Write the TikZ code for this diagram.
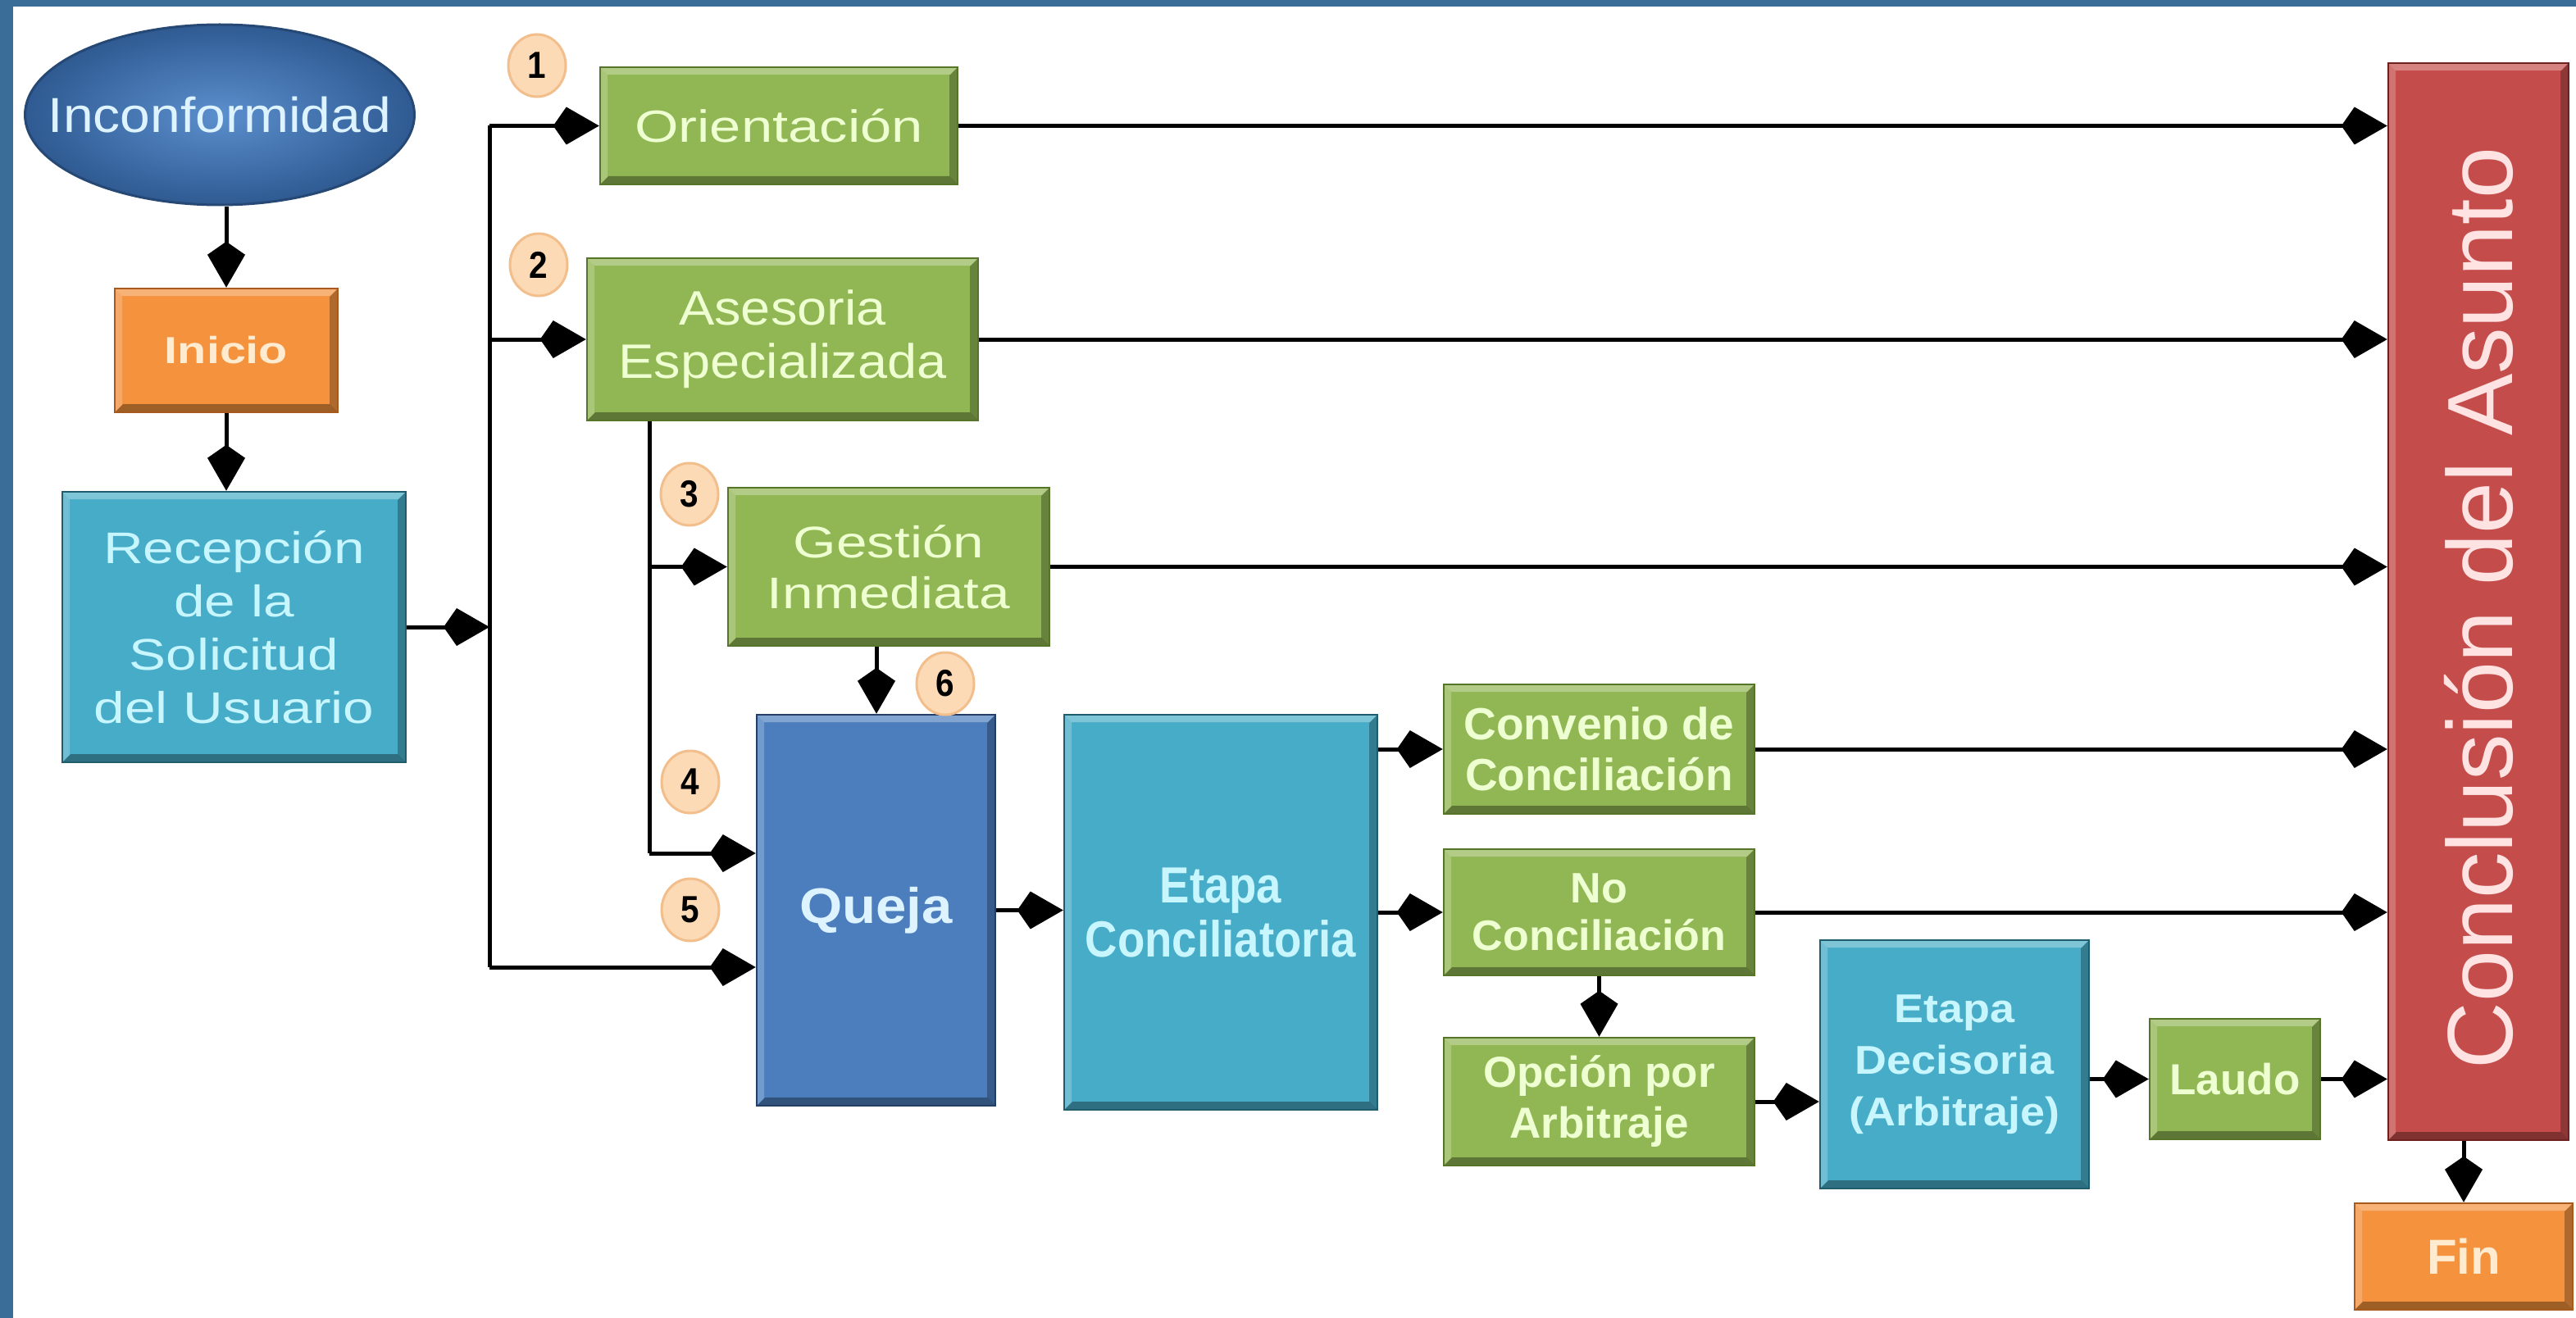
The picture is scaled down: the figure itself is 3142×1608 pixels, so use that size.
\documentclass[tikz,border=0pt]{standalone}
\usepackage{fontspec}
\setmainfont{Liberation Sans}
\newfontfamily\fw{Liberation Sans}[FakeStretch=1.25]
\newfontfamily\fm{Liberation Sans}[FakeStretch=1.1]
\newfontfamily\fn{Liberation Sans}[FakeStretch=0.88]
\usetikzlibrary{arrows.meta,shapes.geometric}
\newcommand\fsz[2]{\fontsize{#1}{#2}\selectfont}
\definecolor{framec}{HTML}{3A6E98}
\definecolor{greenf}{HTML}{91B654}
\definecolor{greend}{HTML}{56752A}
\definecolor{greent}{HTML}{EEFFD2}
\definecolor{tealf}{HTML}{47ACC7}
\definecolor{teald}{HTML}{1F5C6E}
\definecolor{tealt}{HTML}{C8F6FF}
\definecolor{quejaf}{HTML}{4C7EBE}
\definecolor{quejad}{HTML}{233F66}
\definecolor{quejat}{HTML}{DDF3FF}
\definecolor{orangef}{HTML}{F4923D}
\definecolor{oranged}{HTML}{A85A1E}
\definecolor{oranget}{HTML}{FFEBD0}
\definecolor{redf}{HTML}{C44D4B}
\definecolor{redd}{HTML}{6E2220}
\definecolor{redt}{HTML}{FFE2E2}
\definecolor{ellin}{HTML}{5B8FCD}
\definecolor{ellout}{HTML}{2F5A92}
\definecolor{numf}{HTML}{FCDAB6}
\definecolor{numd}{HTML}{F2BE8C}
\tikzset{
  bevel/.style={path picture={
    \fill[white,opacity=0.3] (path picture bounding box.north west) -- (path picture bounding box.north east)
      -- ([shift={(-9pt,-9pt)}]path picture bounding box.north east) -- ([shift={(9pt,-9pt)}]path picture bounding box.north west) -- cycle;
    \fill[white,opacity=0.22] (path picture bounding box.north west) -- ([shift={(9pt,-9pt)}]path picture bounding box.north west)
      -- ([shift={(9pt,9pt)}]path picture bounding box.south west) -- (path picture bounding box.south west) -- cycle;
    \fill[black,opacity=0.35] (path picture bounding box.south west) -- (path picture bounding box.south east)
      -- ([shift={(-10pt,10pt)}]path picture bounding box.south east) -- ([shift={(10pt,10pt)}]path picture bounding box.south west) -- cycle;
    \fill[black,opacity=0.28] (path picture bounding box.north east) -- (path picture bounding box.south east)
      -- ([shift={(-10pt,10pt)}]path picture bounding box.south east) -- ([shift={(-10pt,-10pt)}]path picture bounding box.north east) -- cycle;
  }},
  box/.style 2 args={rectangle, fill=#1, draw=#2, line width=2.5pt, inner sep=0pt, align=center, bevel},
  greenbox/.style={box={greenf}{greend}, text=greent},
  tealbox/.style={box={tealf}{teald}, text=tealt},
  orangebox/.style={box={orangef}{oranged}, text=oranget},
  num/.style={ellipse, minimum width=70pt, minimum height=76pt, inner sep=0pt, fill=numf, draw=numd, line width=3pt, font=\fn\bfseries\fsz{46}{46}, text=black},
  ln/.style={line width=5pt, black},
  arr/.style={line width=5pt, black, -{Kite[length=56pt,width=46pt,inset=16pt]}},
}
\begin{document}
\begin{tikzpicture}[x=1pt,y=-1pt]
\useasboundingbox (0,0) rectangle (3142,1608);
\fill[white] (0,0) rectangle (3142,1608);
\fill[framec] (0,0) rectangle (3142,8);
\fill[framec] (0,0) rectangle (16,1608);

% nodes
\node[ellipse, minimum width=475pt, minimum height=220pt, inner sep=0pt, inner color=ellin, outer color=ellout,
      draw=ellout!80!black, line width=3pt] (incon) at (268,140) {};
\node[text=quejat, font=\fm\fsz{60}{70}, inner sep=0pt] (incontext) at (incon.center) {Inconformidad};
\node[orangebox, minimum width=272pt, minimum height=151pt, font=\fw\bfseries\fsz{46}{56}] (inicio) at (276,427.5) {Inicio};
\node[tealbox, minimum width=419pt, minimum height=330pt, font=\fw\fsz{54}{65}] (recep) at (285.5,765)
  {Recepción\\de la\\Solicitud\\del Usuario};
\node[greenbox, minimum width=436pt, minimum height=143pt, font=\fw\fsz{55}{65}] (orient) at (950,153.5) {Orientación};
\node[greenbox, minimum width=477pt, minimum height=198pt, font=\fm\fsz{59}{65}] (aseso) at (954.5,414) {Asesoria\\Especializada};
\node[greenbox, minimum width=392pt, minimum height=193pt, font=\fw\fsz{54}{62}] (gestion) at (1084,691.5) {Gestión\\Inmediata};
\node[box={quejaf}{quejad}, text=quejat, minimum width=291pt, minimum height=477pt, font=\fm\bfseries\fsz{61}{70}] (queja) at (1068.5,1110.5) {Queja};
\node[tealbox, minimum width=382pt, minimum height=482pt, font=\fn\bfseries\fsz{62}{66}] (etapac) at (1489,1113) {Etapa\\Conciliatoria};
\node[greenbox, minimum width=379pt, minimum height=158pt, font=\bfseries\fsz{55}{62}] (conv) at (1950.5,914) {Convenio de\\Conciliación};
\node[greenbox, minimum width=379pt, minimum height=154pt, font=\bfseries\fsz{52}{58}] (noconc) at (1950.5,1113) {No\\Conciliación};
\node[greenbox, minimum width=379pt, minimum height=156pt, font=\bfseries\fsz{53}{62}] (opcion) at (1950.5,1344) {Opción por\\Arbitraje};
\node[tealbox, minimum width=328pt, minimum height=303pt, font=\fm\bfseries\fsz{49}{63}] (decis) at (2384,1298.5) {Etapa\\Decisoria\\(Arbitraje)};
\node[greenbox, minimum width=208pt, minimum height=147pt, font=\bfseries\fsz{53}{60}] (laudo) at (2726,1316.5) {Laudo};
\node[box={redf}{redd}, text=redt, minimum width=220pt, minimum height=1314pt] (concl) at (3023,734) {};
\node[rotate=90, text=redt, font=\fsz{113}{120}] (concltext) at ([yshift=-8pt]concl.center) {Conclusión del Asunto};
\node[orangebox, minimum width=266pt, minimum height=130pt, font=\bfseries\fsz{60}{66}] (fin) at (3005,1533) {Fin};

% numbers
\node[num] (n1) at (655,80) {1};
\node[num] (n2) at (657,323) {2};
\node[num] (n3) at (841,603) {3};
\node[num] (n4) at (842,954) {4};
\node[num] (n5) at (842,1110) {5};
\node[num] (n6) at (1153,834) {6};

% helper coordinates
\coordinate (tx) at (597,0);
\coordinate (sx) at (792,0);
\coordinate (gx) at (1069,0);
\coordinate (y4) at (0,1041);
\coordinate (y5) at (0,1180);

% connectors
\draw[arr] (incon.south -| inicio.north) -- (inicio.north);
\draw[arr] (inicio.south) -- (inicio.south |- recep.north);
\draw[ln] (orient.west -| tx) -- (y5 -| tx);
\draw[arr] (recep.east) -- (recep.east -| tx);
\draw[arr] (orient.west -| tx) -- (orient.west);
\draw[arr] (aseso.west -| tx) -- (aseso.west);
\draw[arr] (y5 -| tx) -- (y5 -| queja.west);
\draw[ln] (aseso.south -| sx) -- (y4 -| sx);
\draw[arr] (gestion.west -| sx) -- (gestion.west);
\draw[arr] (y4 -| sx) -- (y4 -| queja.west);
\draw[arr] (gestion.south -| gx) -- (queja.north -| gx);
\draw[arr] (queja.east) -- (queja.east -| etapac.west);
\draw[arr] (conv.west -| etapac.east) -- (conv.west);
\draw[arr] (noconc.west -| etapac.east) -- (noconc.west);
\draw[arr] (noconc.south) -- (opcion.north);
\draw[arr] (opcion.east) -- (opcion.east -| decis.west);
\draw[arr] (laudo.west -| decis.east) -- (laudo.west);
\draw[arr] (laudo.east) -- (laudo.east -| concl.west);
\draw[arr] (orient.east) -- (orient.east -| concl.west);
\draw[arr] (aseso.east) -- (aseso.east -| concl.west);
\draw[arr] (gestion.east) -- (gestion.east -| concl.west);
\draw[arr] (conv.east) -- (conv.east -| concl.west);
\draw[arr] (noconc.east) -- (noconc.east -| concl.west);
\draw[arr] (fin.north |- concl.south) -- (fin.north);
\end{tikzpicture}
\end{document}
